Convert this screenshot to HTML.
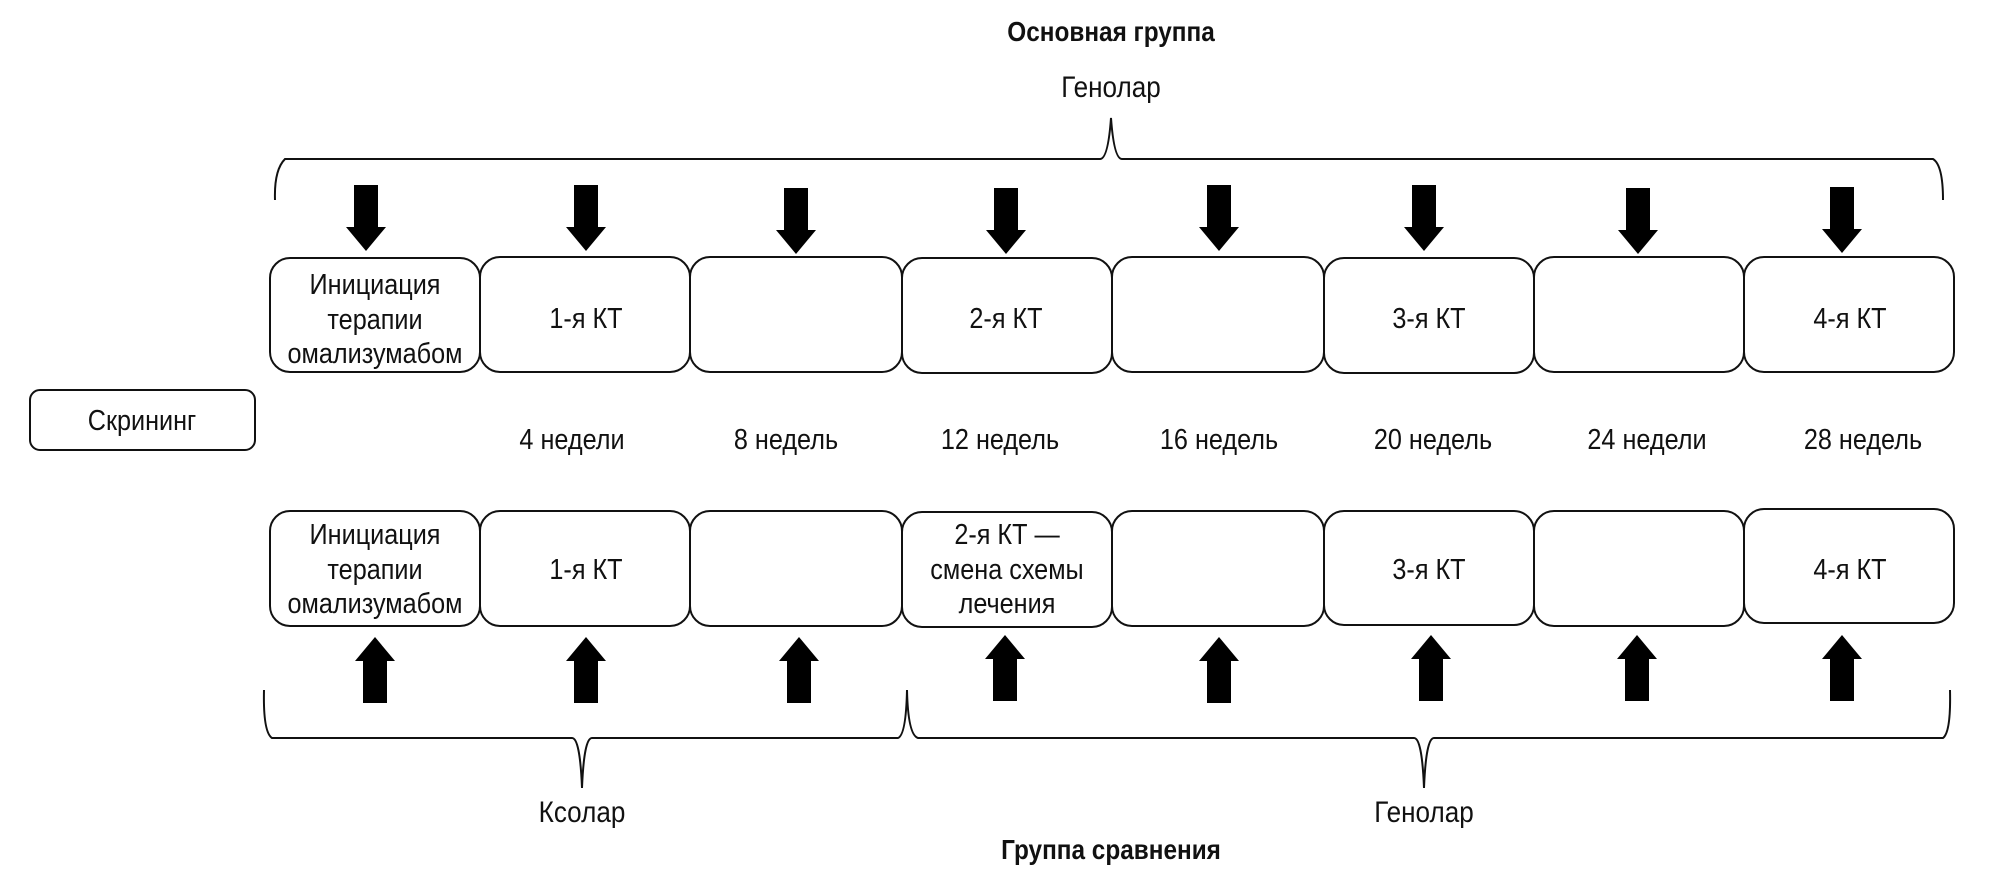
<!DOCTYPE html>
<html><head><meta charset="utf-8"><style>
html,body{margin:0;padding:0;background:#fff;}
svg{display:block;}
text{font-family:"Liberation Sans",sans-serif;fill:#111;transform-box:fill-box;transform-origin:center;transform:scaleX(0.87);}
</style></head><body>
<svg width="1998" height="878" viewBox="0 0 1998 878" xmlns="http://www.w3.org/2000/svg">
<defs>
<g id="dn"><rect x="-12" y="0" width="24" height="44" fill="#000"/><polygon points="-20,42 20,42 0,66" fill="#000"/></g>
<g id="up"><rect x="-12" y="20" width="24" height="44" fill="#000"/><polygon points="-20,22 20,22 0,-2" fill="#000"/></g>
</defs>
<g font-size="30" text-anchor="middle">
<text x="1111" y="41" font-weight="bold" font-size="28">Основная группа</text>
<text x="1111" y="97">Генолар</text>
</g>
<path d="M275,200 Q274,170 285,159 L1100,159 Q1108,159 1111,118 Q1114,159 1122,159 L1933,159 Q1943,165 1943,200" fill="none" stroke="#111" stroke-width="2"/>
<g>
<use href="#dn" x="366" y="185"/><use href="#dn" x="586" y="185"/><use href="#dn" x="796" y="188"/><use href="#dn" x="1006" y="188"/>
<use href="#dn" x="1219" y="185"/><use href="#dn" x="1424" y="185"/><use href="#dn" x="1638" y="188"/><use href="#dn" x="1842" y="187"/>
</g>
<g fill="none" stroke="#111" stroke-width="2">
<rect x="270" y="258" width="210" height="114" rx="20"/>
<rect x="480" y="257" width="210" height="115" rx="20"/>
<rect x="690" y="257" width="212" height="115" rx="20"/>
<rect x="902" y="258" width="210" height="115" rx="20"/>
<rect x="1112" y="257" width="212" height="115" rx="20"/>
<rect x="1324" y="258" width="210" height="115" rx="20"/>
<rect x="1534" y="257" width="210" height="115" rx="20"/>
<rect x="1744" y="257" width="210" height="115" rx="20"/>
<rect x="30" y="390" width="225" height="60" rx="10"/>
<rect x="270" y="511" width="210" height="115" rx="20"/>
<rect x="480" y="511" width="210" height="115" rx="20"/>
<rect x="690" y="511" width="212" height="115" rx="20"/>
<rect x="902" y="512" width="210" height="115" rx="20"/>
<rect x="1112" y="511" width="212" height="115" rx="20"/>
<rect x="1324" y="511" width="210" height="114" rx="20"/>
<rect x="1534" y="511" width="210" height="115" rx="20"/>
<rect x="1744" y="509" width="210" height="114" rx="20"/>
</g>
<g font-size="29" text-anchor="middle">
<text x="375" y="294">Инициация</text><text x="375" y="329">терапии</text><text x="375" y="363">омализумабом</text>
<text x="586" y="328">1-я КТ</text>
<text x="1006" y="328">2-я КТ</text>
<text x="1429" y="328">3-я КТ</text>
<text x="1850" y="328">4-я КТ</text>
<text x="142" y="430">Скрининг</text>
<text x="572" y="449">4 недели</text><text x="786" y="449">8 недель</text><text x="1000" y="449">12 недель</text>
<text x="1219" y="449">16 недель</text><text x="1433" y="449">20 недель</text><text x="1647" y="449">24 недели</text><text x="1863" y="449">28 недель</text>
<text x="375" y="544">Инициация</text><text x="375" y="579">терапии</text><text x="375" y="613">омализумабом</text>
<text x="586" y="579">1-я КТ</text>
<text x="1007" y="544">2-я КТ —</text><text x="1007" y="579">смена схемы</text><text x="1007" y="613">лечения</text>
<text x="1429" y="579">3-я КТ</text>
<text x="1850" y="579">4-я КТ</text>
</g>
<g>
<use href="#up" x="375" y="639"/><use href="#up" x="586" y="639"/><use href="#up" x="799" y="639"/><use href="#up" x="1005" y="637"/>
<use href="#up" x="1219" y="639"/><use href="#up" x="1431" y="637"/><use href="#up" x="1637" y="637"/><use href="#up" x="1842" y="637"/>
</g>
<g fill="none" stroke="#111" stroke-width="2">
<path d="M264,690 Q263,732 272,738 L572,738 Q580,738 582,788 Q584,738 592,738 L898,738 Q906,735 907,690"/>
<path d="M907,690 Q908,735 918,738 L1414,738 Q1422,738 1424,788 Q1426,738 1434,738 L1943,738 Q1951,732 1950,690"/>
</g>
<g font-size="30" text-anchor="middle">
<text x="582" y="822">Ксолар</text>
<text x="1424" y="822">Генолар</text>
<text x="1111" y="859" font-weight="bold" font-size="28">Группа сравнения</text>
</g>
</svg>
</body></html>
